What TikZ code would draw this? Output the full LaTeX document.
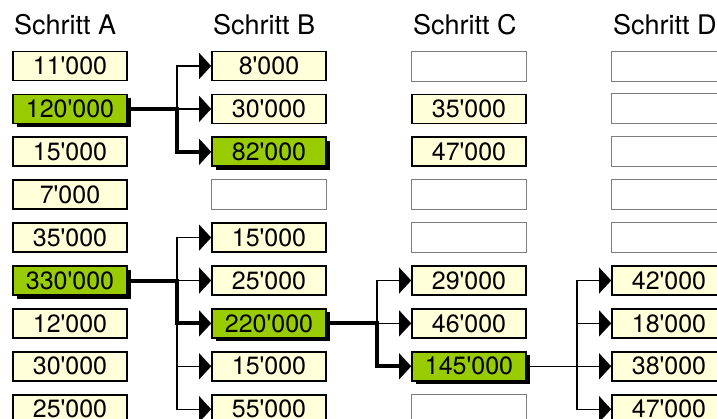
\documentclass[tikz,border=0pt]{standalone}
\usepackage{fontspec}
\setmainfont{TeX Gyre Heros}
\usetikzlibrary{arrows.meta,shadows}
\definecolor{cream}{RGB}{255,255,217}
\definecolor{lime}{RGB}{153,204,0}
\definecolor{framegray}{RGB}{125,125,125}
\newcommand\ap{\textquotesingle}
\begin{document}
\begin{tikzpicture}[x=1pt,y=-1pt,
  box/.style={draw=black,line width=1.8pt,fill=cream,minimum width=114pt,minimum height=29pt,inner sep=0pt,font=\fontsize{25}{30}\selectfont},
  hit/.style={box,fill=lime,drop shadow={shadow xshift=3.5pt,shadow yshift=-3.5pt,fill=black,opacity=1}},
  blank/.style={draw=framegray,line width=1pt,fill=white,minimum width=115pt,minimum height=30pt,inner sep=0pt},
  head/.style={anchor=base west,inner sep=0pt,font=\fontsize{27}{32}\selectfont},
  thinline/.style={line width=1.4pt},
  thickline/.style={line width=4pt},
  tip/.style={-{Triangle[length=12pt,width=26pt,line width=0.1pt]}}
]
\useasboundingbox (0,0) rectangle (717,418);
% headers
\node[head] (hA) at (14,34) {Schritt A};
\node[head] (hB) at (213,34) {Schritt B};
\node[head] (hC) at (413,34) {Schritt C};
\node[head] (hD) at (613,34) {Schritt D};
% column A
\node[box] (a1) at (70,66) {11\ap000};
\node[hit] (a2) at (70,108.9) {120\ap000};
\node[box] (a3) at (70,151.8) {15\ap000};
\node[box] (a4) at (70,194.7) {7\ap000};
\node[box] (a5) at (70,237.6) {35\ap000};
\node[hit] (a6) at (70,280.5) {330\ap000};
\node[box] (a7) at (70,323.4) {12\ap000};
\node[box] (a8) at (70,366.3) {30\ap000};
\node[box] (a9) at (70,409.2) {25\ap000};
% column B
\node[box] (b1) at (269,66) {8\ap000};
\node[box] (b2) at (269,108.9) {30\ap000};
\node[hit] (b3) at (269,151.8) {82\ap000};
\node[blank] (b4) at (269,194.7) {};
\node[box] (b5) at (269,237.6) {15\ap000};
\node[box] (b6) at (269,280.5) {25\ap000};
\node[hit] (b7) at (269,323.4) {220\ap000};
\node[box] (b8) at (269,366.3) {15\ap000};
\node[box] (b9) at (269,409.2) {55\ap000};
% column C
\node[blank] (c1) at (469,66) {};
\node[box] (c2) at (469,108.9) {35\ap000};
\node[box] (c3) at (469,151.8) {47\ap000};
\node[blank] (c4) at (469,194.7) {};
\node[blank] (c5) at (469,237.6) {};
\node[box] (c6) at (469,280.5) {29\ap000};
\node[box] (c7) at (469,323.4) {46\ap000};
\node[hit] (c8) at (469,366.3) {145\ap000};
\node[blank] (c9) at (469,409.2) {};
% column D
\node[blank] (d1) at (669,66) {};
\node[blank] (d2) at (669,108.9) {};
\node[blank] (d3) at (669,151.8) {};
\node[blank] (d4) at (669,194.7) {};
\node[blank] (d5) at (669,237.6) {};
\node[box] (d6) at (669,280.5) {42\ap000};
\node[box] (d7) at (669,323.4) {18\ap000};
\node[box] (d8) at (669,366.3) {38\ap000};
\node[box] (d9) at (669,409.2) {47\ap000};
% bus positions
\coordinate (busAB) at (177,0);
\coordinate (busBC) at (377,0);
\coordinate (busCD) at (577,0);
% group 1
\draw[thinline,tip] (a2.east -| busAB) |- (b1.west);
\draw[thinline,tip] (a2.east -| busAB) -- (b2.west);
\draw[thickline,tip] (a2.east) -- (a2.east -| busAB) |- (b3.west);
% group 2
\draw[thinline,tip] (a6.east -| busAB) |- (b5.west);
\draw[thinline,tip] (a6.east -| busAB) -- (b6.west);
\draw[thinline,tip] (a6.east -| busAB) |- (b8.west);
\draw[thinline,tip] (a6.east -| busAB) |- (b9.west);
\draw[thickline,tip] (a6.east) -- (a6.east -| busAB) |- (b7.west);
% group 3
\draw[thinline,tip] (b7.east -| busBC) |- (c6.west);
\draw[thinline,tip] (b7.east -| busBC) -- (c7.west);
\draw[thickline,tip] (b7.east) -- (b7.east -| busBC) |- (c8.west);
% group 4
\draw[thinline] (c8.east) -- (c8.east -| busCD);
\draw[thinline,tip] (c8.east -| busCD) |- (d6.west);
\draw[thinline,tip] (c8.east -| busCD) |- (d7.west);
\draw[thinline,tip] (c8.east -| busCD) -- (d8.west);
\draw[thinline,tip] (c8.east -| busCD) |- (d9.west);
\end{tikzpicture}
\end{document}
